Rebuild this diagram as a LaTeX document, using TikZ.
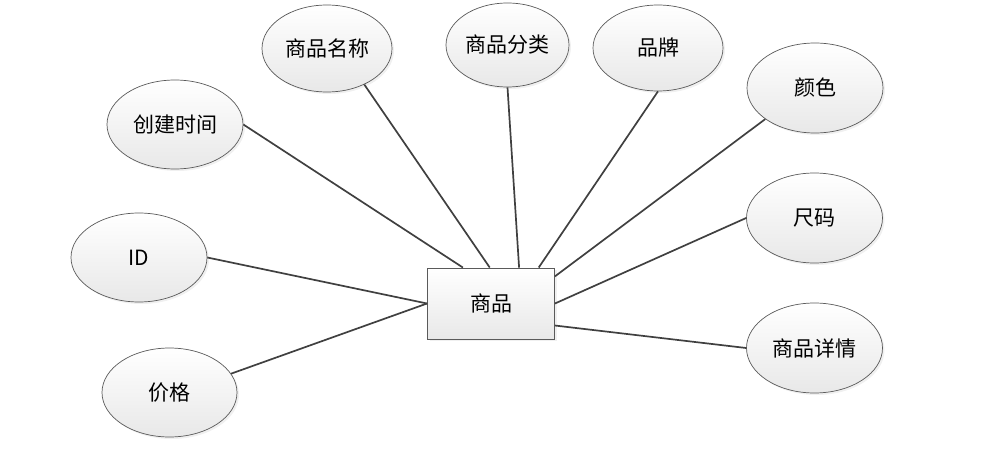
\documentclass[tikz,border=0pt]{standalone}
\usepackage{fontspec}
\setmainfont{Noto Sans CJK SC}
\usetikzlibrary{shapes.geometric,shadows}
\definecolor{erLine}{RGB}{64, 64, 64}
\definecolor{erBorder}{RGB}{90, 90, 90}
\definecolor{erShade}{RGB}{232, 232, 232}

\begin{document}
\begin{tikzpicture}[
  x=1pt, y=-1pt,
  entity/.style={
    draw=erBorder,
    line width=0.9pt,
    top color=white,
    bottom color=erShade,
    minimum width=127pt,
    minimum height=71pt,
    inner sep=0pt,
    drop shadow={opacity=0.12,shadow xshift=2pt,shadow yshift=-2pt},
    font=\fontsize{21}{24}\selectfont
  },
  attr/.style={
    ellipse,
    draw=erBorder,
    line width=0.7pt,
    top color=white,
    bottom color=erShade,
    minimum width=136pt,
    minimum height=89pt,
    inner sep=0pt,
    drop shadow={opacity=0.12,shadow xshift=2pt,shadow yshift=-2pt},
    font=\fontsize{21}{24}\selectfont
  },
  link/.style={erLine,line width=1.7pt}
]
  \useasboundingbox (0,0) rectangle (988,452);

  \node[entity] (goods) at (491,303.5) {商品};

  \node[attr] (createTime) at (175,124.5) {创建时间};
  \node[attr,minimum width=130pt,minimum height=87pt] (goodsName) at (327,48.5) {商品名称};
  \node[attr,minimum width=123pt,minimum height=84pt] (category) at (507.5,45) {商品分类};
  \node[attr,minimum width=130pt,minimum height=86pt] (brand) at (658,48) {品牌};
  \node[attr,minimum height=90pt] (color) at (815,88) {颜色};
  \node[attr,minimum height=90pt] (size) at (814.5,218) {尺码};
  \node[attr,minimum height=90pt] (detail) at (814.5,348) {商品详情};
  \node[attr] (goodsId) at (139,257.5) {ID};
  \node[attr,minimum width=135pt] (price) at (169.5,392.5) {价格};

  \draw[link] (createTime.east) -- (goods.128);
  \draw[link] (goodsName.-44) -- (goods.92);
  \draw[link] (category.south) -- (goods.52);
  \draw[link] (brand.south) -- (goods.37);
  \draw[link] (color.212) -- (goods.23);
  \draw[link] (size.west) -- (goods.east);
  \draw[link] (detail.west) -- (goods.-19);
  \draw[link] (goodsId.east) -- (goods.west);
  \draw[link] (price.17) -- (goods.west);
\end{tikzpicture}
\end{document}
